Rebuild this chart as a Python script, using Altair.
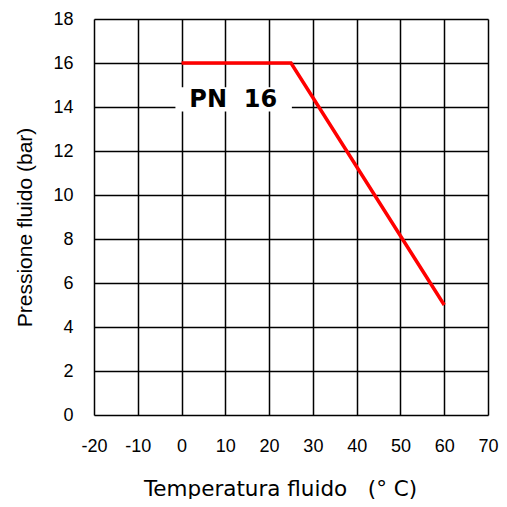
import altair as alt
import pandas as pd

# Data
temps = [0, 25, 60]
pressures = [16, 16, 5]
x_ticks = [-20, -10, 0, 10, 20, 30, 40, 50, 60, 70]
y_ticks = [0, 2, 4, 6, 8, 10, 12, 14, 16, 18]
label_text = ["PN\u00a0\u00a016"]
label_x = [11.8]
label_y = [14.34]
box_x = [-1.4]
box_x2 = [25.2]
box_y = [13.8]
box_y2 = [14.9]

line_df = pd.DataFrame({"t": temps, "p": pressures})
label_df = pd.DataFrame({"t": label_x, "p": label_y, "txt": label_text})
box_df = pd.DataFrame({"x": box_x, "x2": box_x2, "y": box_y, "y2": box_y2})

FONT = "Liberation Sans"

xscale = alt.Scale(domain=[-20, 70], nice=False, zero=False)
yscale = alt.Scale(domain=[0, 18], nice=False)

xaxis = alt.Axis(
    values=x_ticks, ticks=False, domain=False, labelPadding=22,
    labelFont=FONT, labelFontSize=18, labelColor="black",
    labelExpr="datum.value + ''",
    grid=True, gridColor="black", gridWidth=1.5, gridOpacity=1,
    title="Temperatura fluido\u00a0\u00a0\u00a0(° C)",
    titleFont="DejaVu Sans", titleFontSize=21.5, titleFontWeight="normal", titleColor="black",
    titleX=186, titleY=80, titleBaseline="alphabetic", titleAlign="center",
    labelFlush=False,
)
yaxis = alt.Axis(
    values=y_ticks, ticks=False, domain=False, labelPadding=21,
    labelFont=FONT, labelFontSize=18, labelColor="black",
    grid=True, gridColor="black", gridWidth=1.5, gridOpacity=1,
    title="Pressione fluido (bar)",
    titleFont=FONT, titleFontSize=21, titleFontWeight="normal", titleColor="black",
    titleX=-63, titleY=208, titleBaseline="alphabetic", titleAlign="center",
    titleAngle=270, labelFlush=False,
)

line = alt.Chart(line_df).mark_line(color="#ff0000", strokeWidth=3.5).encode(
    x=alt.X("t:Q", scale=xscale, axis=xaxis),
    y=alt.Y("p:Q", scale=yscale, axis=yaxis),
)

box = alt.Chart(box_df).mark_rect(color="white", opacity=1).encode(
    x=alt.X("x:Q", scale=xscale),
    x2="x2:Q",
    y=alt.Y("y:Q", scale=yscale),
    y2="y2:Q",
)

label = alt.Chart(label_df).mark_text(
    font="DejaVu Sans", fontSize=24, fontWeight="bold", color="black",
    align="center", baseline="middle",
).encode(
    x=alt.X("t:Q", scale=xscale),
    y=alt.Y("p:Q", scale=yscale),
    text="txt:N",
)

chart = alt.layer(box, line, label).properties(
    width=394, height=396,
    autosize=alt.AutoSizeParams(type="none"),
    padding={"left": 86, "top": 11, "right": 11, "bottom": 84},
).configure_view(stroke="black", strokeWidth=3).configure(background="white")

chart.save("out.html", embed_options={"renderer": "svg", "actions": False})
